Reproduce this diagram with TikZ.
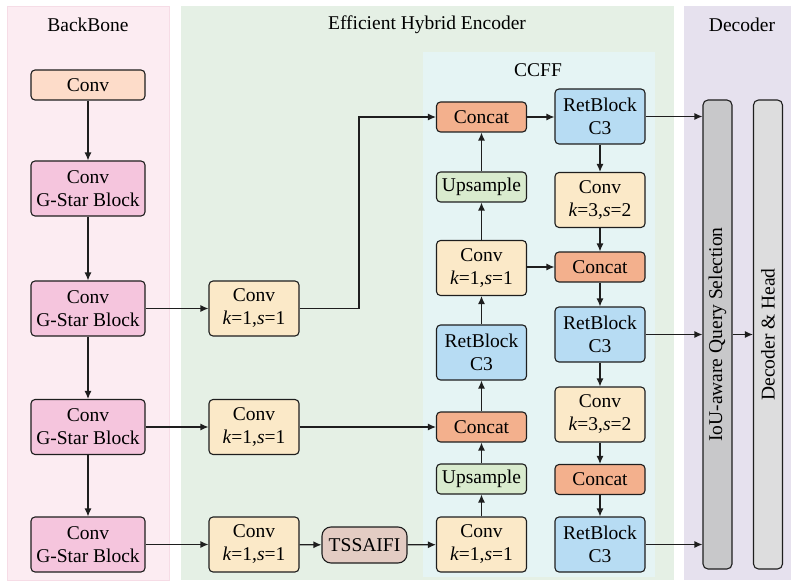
\documentclass[tikz,border=0pt]{standalone}
\usepackage{fontspec}
\setmainfont{Liberation Serif}
\usetikzlibrary{arrows.meta}

\definecolor{bbpanel}{HTML}{FCECF2}
\definecolor{bbedge}{HTML}{F6DCE6}
\definecolor{encpanel}{HTML}{E5F0E5}
\definecolor{ccffpanel}{HTML}{E5F4F4}
\definecolor{decpanel}{HTML}{E6E1EE}
\definecolor{convtop}{HTML}{FDDCC9}
\definecolor{gstar}{HTML}{F5C5DD}
\definecolor{convk}{HTML}{FBE9C8}
\definecolor{concatc}{HTML}{F3B08D}
\definecolor{retc}{HTML}{B7DCF3}
\definecolor{upsc}{HTML}{D9EBCE}
\definecolor{tssc}{HTML}{E3CCC3}
\definecolor{iouc}{HTML}{C8C8CA}
\definecolor{dechc}{HTML}{DDDDDE}
\definecolor{edge}{HTML}{1E1E1E}

\begin{document}
\begin{tikzpicture}[x=1pt,y=-1pt,
  txt/.style={font=\fontsize{19.5}{23}\selectfont},
  box/.style={txt, draw=edge, line width=1.1pt, rounded corners=4pt,
    align=center, inner sep=0pt},
  wide/.style={box, minimum width=114pt},
  mid/.style={box, minimum width=90pt},
  tall/.style={minimum height=55pt},
  flat/.style={minimum height=30pt},
  bar/.style={draw=edge, line width=1.1pt, rounded corners=5pt,
    minimum width=29pt, minimum height=469pt, inner sep=0pt},
  arr/.style={draw=edge, line width=1.2pt, -{Latex[length=8pt,width=7pt]}},
  panel/.style={line width=0.6pt}
]
\useasboundingbox (0,0) rectangle (793,583);

% background panels
\fill[bbpanel, draw=bbedge, panel] (7,6) rectangle (169,580);
\fill[encpanel] (181,6) rectangle (674,580);
\fill[ccffpanel] (423,52) rectangle (655,577);
\fill[decpanel] (684,6) rectangle (791,580);

\node[txt] (tbb) at (88,25) {BackBone};
\node[txt] (tenc) at (427,25) {Efficient Hybrid Encoder};
\node[txt] (tdec) at (742,25) {Decoder};
\node[txt] (tccff) at (538,70) {CCFF};

% backbone
\node[wide, flat, fill=convtop] (c0) at (88,85) {Conv};
\node[wide, tall, fill=gstar] (g1) at (88,188.5) {Conv\\G-Star Block};
\node[wide, tall, fill=gstar] (g2) at (88,308.5) {Conv\\G-Star Block};
\node[wide, tall, fill=gstar] (g3) at (88,427) {Conv\\G-Star Block};
\node[wide, tall, fill=gstar] (g4) at (88,544.5) {Conv\\G-Star Block};

% lateral 1x1 convolutions
\node[mid, tall, fill=convk] (k1) at (254,308.5) {Conv\\\textit{k}=1,\textit{s}=1};
\node[mid, tall, fill=convk] (k2) at (254,427) {Conv\\\textit{k}=1,\textit{s}=1};
\node[mid, tall, fill=convk] (k3) at (254,544.5) {Conv\\\textit{k}=1,\textit{s}=1};
\node[box, rounded corners=9pt, minimum width=85pt, minimum height=36pt, fill=tssc]
  (tss) at (364.5,545) {TSSAIFI};

% CCFF, top-down column
\node[mid, flat, fill=concatc] (lcat1) at (481.5,117) {Concat};
\node[mid, flat, fill=upsc] (lup1) at (481.5,187) {Upsample};
\node[mid, tall, fill=convk] (lconv1) at (481.5,268) {Conv\\\textit{k}=1,\textit{s}=1};
\node[mid, tall, fill=retc] (lret) at (481.5,352.5) {RetBlock\\C3};
\node[mid, flat, fill=concatc] (lcat2) at (481.5,427) {Concat};
\node[mid, flat, fill=upsc] (lup2) at (481.5,479) {Upsample};
\node[mid, tall, fill=convk] (lconv2) at (481.5,544.5) {Conv\\\textit{k}=1,\textit{s}=1};

% CCFF, bottom-up column
\node[mid, tall, fill=retc] (rret1) at (600,116.5) {RetBlock\\C3};
\node[mid, tall, fill=convk] (rconv1) at (600,200) {Conv\\\textit{k}=3,\textit{s}=2};
\node[mid, flat, fill=concatc] (rcat1) at (600,267) {Concat};
\node[mid, tall, fill=retc] (rret2) at (600,334.5) {RetBlock\\C3};
\node[mid, tall, fill=convk] (rconv2) at (600,414.5) {Conv\\\textit{k}=3,\textit{s}=2};
\node[mid, flat, fill=concatc] (rcat2) at (600,479.5) {Concat};
\node[mid, tall, fill=retc] (rret3) at (600,544.5) {RetBlock\\C3};

% decoder bars
\node[bar, fill=iouc] (iou) at (717.5,334.5) {};
\node[txt, rotate=90] (tiou) at (iou) {IoU-aware Query Selection};
\node[bar, fill=dechc] (dech) at (768,334.5) {};
\node[txt, rotate=90] (tdech) at (dech) {Decoder \& Head};

% backbone flow
\draw[arr] (c0) -- (g1);
\draw[arr] (g1) -- (g2);
\draw[arr] (g2) -- (g3);
\draw[arr] (g3) -- (g4);

% lateral connections
\draw[arr] (g2) -- (k1);
\draw[arr] (g3) -- (k2);
\draw[arr] (g4) -- (k3);
\draw[arr] (k3) -- (tss);
\draw[arr] (tss) -- (lconv2);
\coordinate (bend) at (359,200);
\draw[arr] (k1.east) -| (bend) |- (lcat1.west);
\draw[arr] (k2.east) -- (lcat2.west);

% top-down path
\draw[arr] (lconv2) -- (lup2);
\draw[arr] (lup2) -- (lcat2);
\draw[arr] (lcat2) -- (lret);
\draw[arr] (lret) -- (lconv1);
\draw[arr] (lconv1) -- (lup1);
\draw[arr] (lup1) -- (lcat1);
\draw[arr] (lcat1) -- (lcat1 -| rret1.west);

% bottom-up path
\draw[arr] (rret1) -- (rconv1);
\draw[arr] (rconv1) -- (rcat1);
\draw[arr] (lconv1.east |- rcat1) -- (rcat1.west);
\draw[arr] (rcat1) -- (rret2);
\draw[arr] (rret2) -- (rconv2);
\draw[arr] (rconv2) -- (rcat2);
\draw[arr] (rcat2) -- (rret3);

% outputs to decoder
\draw[arr] (rret1.east) -- (rret1.east -| iou.west);
\draw[arr] (rret2.east) -- (rret2.east -| iou.west);
\draw[arr] (rret3.east) -- (rret3.east -| iou.west);
\draw[arr] (rret2.east -| iou.east) -- (rret2.east -| dech.west);
\end{tikzpicture}
\end{document}
